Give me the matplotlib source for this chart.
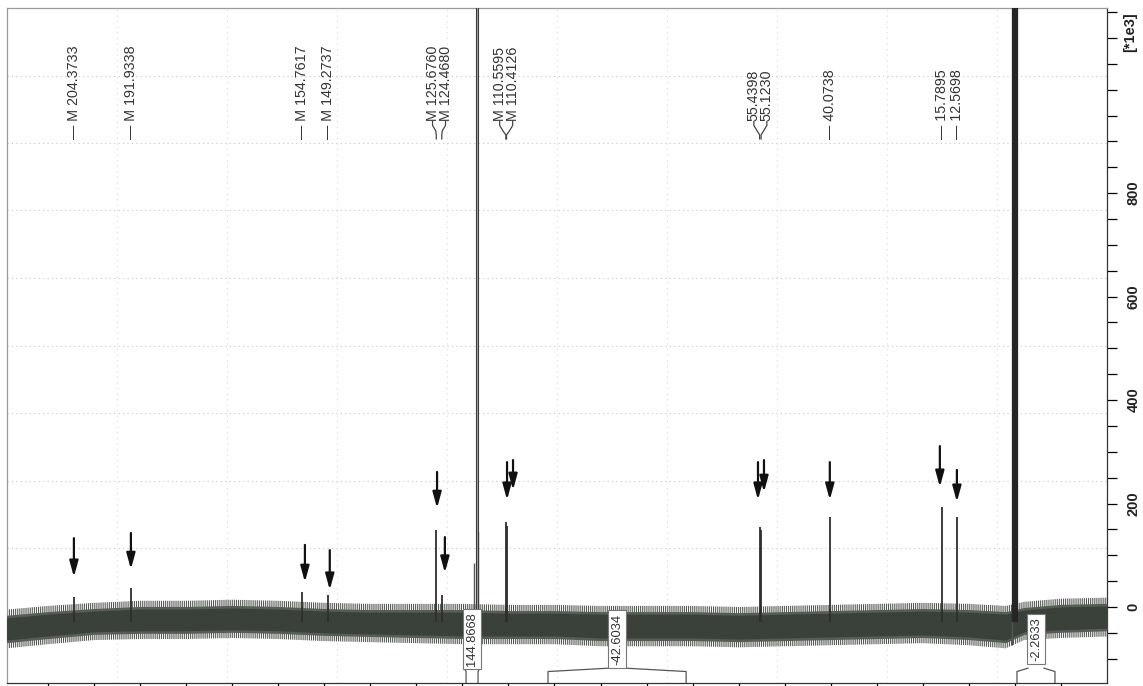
import numpy as np
import matplotlib
matplotlib.use("Agg")
import matplotlib.pyplot as plt
import matplotlib.transforms as mtransforms

plt.rcParams["font.family"] = ["Liberation Sans", "DejaVu Sans"]
plt.rcParams["hatch.linewidth"] = 0.8

# ──────────────────────────────────────────────
# data (ppm / intensity in units of 1e3)
# ──────────────────────────────────────────────
# noise band of the baseline
base_ppm = [219, 210, 200, 190, 180, 170, 160, 150, 140, 130, 120, 110, 100,
            90, 80, 70, 60, 50, 40, 30, 20, 10, 2, -2, -10, -20]
base_hi = [-21, -14, -8, -4, -4, -2, -4, -8, -10, -10, -10, -12, -12,
           -14, -14, -14, -16, -14, -12, -10, -8, -10, -14, -6, 0, 2]
base_lo = [-64, -56, -48, -46, -46, -44, -46, -50, -52, -54, -56, -56, -56,
           -60, -60, -60, -62, -60, -58, -56, -54, -58, -64, -48, -44, -41]
spike = 16

peak_ppm = [204.3733, 191.9338, 154.7617, 149.2737, 125.6760, 124.4680,
            110.5595, 110.4126, 55.4398, 55.1230, 40.0738, 15.7895, 12.5698]
peak_int = [19, 37, 29, 23, 149, 23, 164, 156, 155, 149, 174, 193, 174]

# off-scale signals
big_ppm = [116.85, 0.0]
big_int = [1300, 1300]
shoulder_ppm = [117.5, 116.5, 0.6]
shoulder_int = [85, 145, -73]

# peak labels
single_ppm = [204.3733, 191.9338, 154.7617, 149.2737, 40.0738, 15.7895, 12.5698]
single_txt = ["M 204.3733", "M 191.9338", "M 154.7617", "M 149.2737",
              "40.0738", "15.7895", "12.5698"]
pair_ppm = [(125.6760, 124.4680), (110.5595, 110.4126), (55.4398, 55.1230)]
pair_txt = [("M 125.6760", "M 124.4680"), ("M 110.5595", "M 110.4126"),
            ("55.4398", "55.1230")]

# hand-drawn arrows: x, tail, tip
arrow_ppm = [204.37, 191.99, 154.2, 148.8, 125.5, 123.8, 110.3, 109.0,
             55.8, 54.5, 40.2, 16.3, 12.6]
arrow_top = [133, 143, 120, 110, 261, 135, 280, 284, 280, 284, 280, 311, 265]
arrow_tip = [58, 73, 48, 33, 191, 66, 207, 226, 207, 222, 207, 232, 203]

# integrals
int_txt = ["144.8668", "-42.6034", "-2.2633"]
int_from = [119.2, 101.4, -0.45]
int_to = [116.6, 71.4, -8.7]

XLIM = (218.9, -20.0)
YLIM = (-147, 1158)

# ──────────────────────────────────────────────
# figure
# ──────────────────────────────────────────────
fig = plt.figure(figsize=(11.43, 6.86), dpi=100)
ax = fig.add_axes([7 / 1143, 3 / 686, 1100 / 1143, 675 / 686])
ax.set_xlim(*XLIM)
ax.set_ylim(*YLIM)
ppp = (XLIM[0] - XLIM[1]) / 1100.0  # ppm per pixel
trans = mtransforms.blended_transform_factory(ax.transData, ax.transAxes)

# grid: ten equal divisions
for f in np.arange(0.1, 0.95, 0.1):
    ax.plot([0, 1], [f, f], transform=ax.transAxes, color="#c4c4c4",
            lw=0.8, ls=(0, (1, 3)), zorder=0)
    ax.plot([f, f], [0, 1], transform=ax.transAxes, color="#d8d8d8",
            lw=0.8, ls=(0, (1, 4)), zorder=0)

# baseline noise
lo = np.array(base_lo)
hi = np.array(base_hi)
ax.fill_between(base_ppm, lo - spike, hi + spike, facecolor="none",
                edgecolor="#555a55", hatch="||||||||", linewidth=0, zorder=2)
ax.fill_between(base_ppm, lo - 5, hi + 5, color="#575c57", linewidth=0,
                zorder=3)
ax.fill_between(base_ppm, lo, hi, color="#3a403a", linewidth=0, zorder=3)

# peaks
ax.vlines(peak_ppm, -30, peak_int, color="#2e2e2e", lw=1.3, zorder=4)
ax.vlines(shoulder_ppm, -30, shoulder_int, color="#555555", lw=1.0, zorder=4)
# solvent-like signal: grey core with dark edges
ax.vlines(big_ppm[0], -30, big_int[0], color="#a8a8a8", lw=2.0, zorder=4)
ax.vlines([big_ppm[0] + 0.3, big_ppm[0] - 0.3], -30, big_int[0],
          color="#3a3a3a", lw=0.8, zorder=4)
# reference signal
ax.vlines(big_ppm[1], -30, big_int[1], color="#262626", lw=4.5, zorder=4)

# arrows
for p, t, h in zip(arrow_ppm, arrow_top, arrow_tip):
    ax.annotate("", xy=(p, h), xytext=(p, t),
                arrowprops=dict(arrowstyle="-|>,head_length=0.95,head_width=0.26",
                                color="#111111", lw=1.6, shrinkA=0, shrinkB=0),
                zorder=5)

# peak labels
lab_kw = dict(rotation=90, ha="center", va="bottom", fontsize=10.3,
              color="#333333", transform=trans, clip_on=False)
for p, s in zip(single_ppm, single_txt):
    ax.text(p, 0.806, "\u2014 " + s, **lab_kw)
for (p1, p2), (s1, s2) in zip(pair_ppm, pair_txt):
    mid = (p1 + p2) / 2
    for p, s, d in ((p1, s1, 6.5), (p2, s2, -6.5)):
        lx = mid + d * ppp
        ax.text(lx, 0.833, s, **lab_kw)
        ax.plot([lx, lx, lx - d * 0.5 * ppp, p, p],
                [0.832, 0.826, 0.818, 0.812, 0.806],
                transform=trans, color="#444444", lw=0.9, clip_on=False)

# integrals
for s, a, b in zip(int_txt, int_from, int_to):
    c = (a + b) / 2
    hw = 8 * ppp
    ax.plot([a, a, c + hw], [0, 0.017, 0.022], transform=trans,
            color="#555555", lw=0.9)
    ax.plot([b, b, c - hw], [0, 0.017, 0.022], transform=trans,
            color="#555555", lw=0.9)
    ax.text(c, 0.065, s, rotation=90, ha="center", va="center", fontsize=9.3,
            color="#333333", transform=trans, zorder=6,
            bbox=dict(boxstyle="square,pad=0.25", fc="white", ec="#777777",
                      lw=0.8))

# axes
ax.yaxis.tick_right()
ax.set_yticks([0, 200, 400, 600, 800])
ax.set_yticks(np.arange(-100, 1151, 50), minor=True)
ax.tick_params(axis="y", which="both", direction="out", length=7, width=0.9,
               pad=7, labelsize=10.5, labelcolor="#222222")
for lab in ax.get_yticklabels():
    lab.set_rotation(90)
    lab.set_va("center")
    lab.set_fontweight("bold")
ax.set_xticks(np.arange(210, -11, -10))
ax.tick_params(axis="x", direction="out", length=5, width=0.9,
               labelbottom=False)
for side, col in (("top", "#9a9a9a"), ("left", "#9a9a9a"),
                  ("right", "#333333"), ("bottom", "#333333")):
    ax.spines[side].set_color(col)
    ax.spines[side].set_linewidth(0.9)

fig.text(1130 / 1143, 1 - 32 / 686, "[*1e3]", rotation=90, ha="center",
         va="center", fontsize=10.5, fontweight="bold", color="#222222")

fig.savefig("out.png", dpi=100)
